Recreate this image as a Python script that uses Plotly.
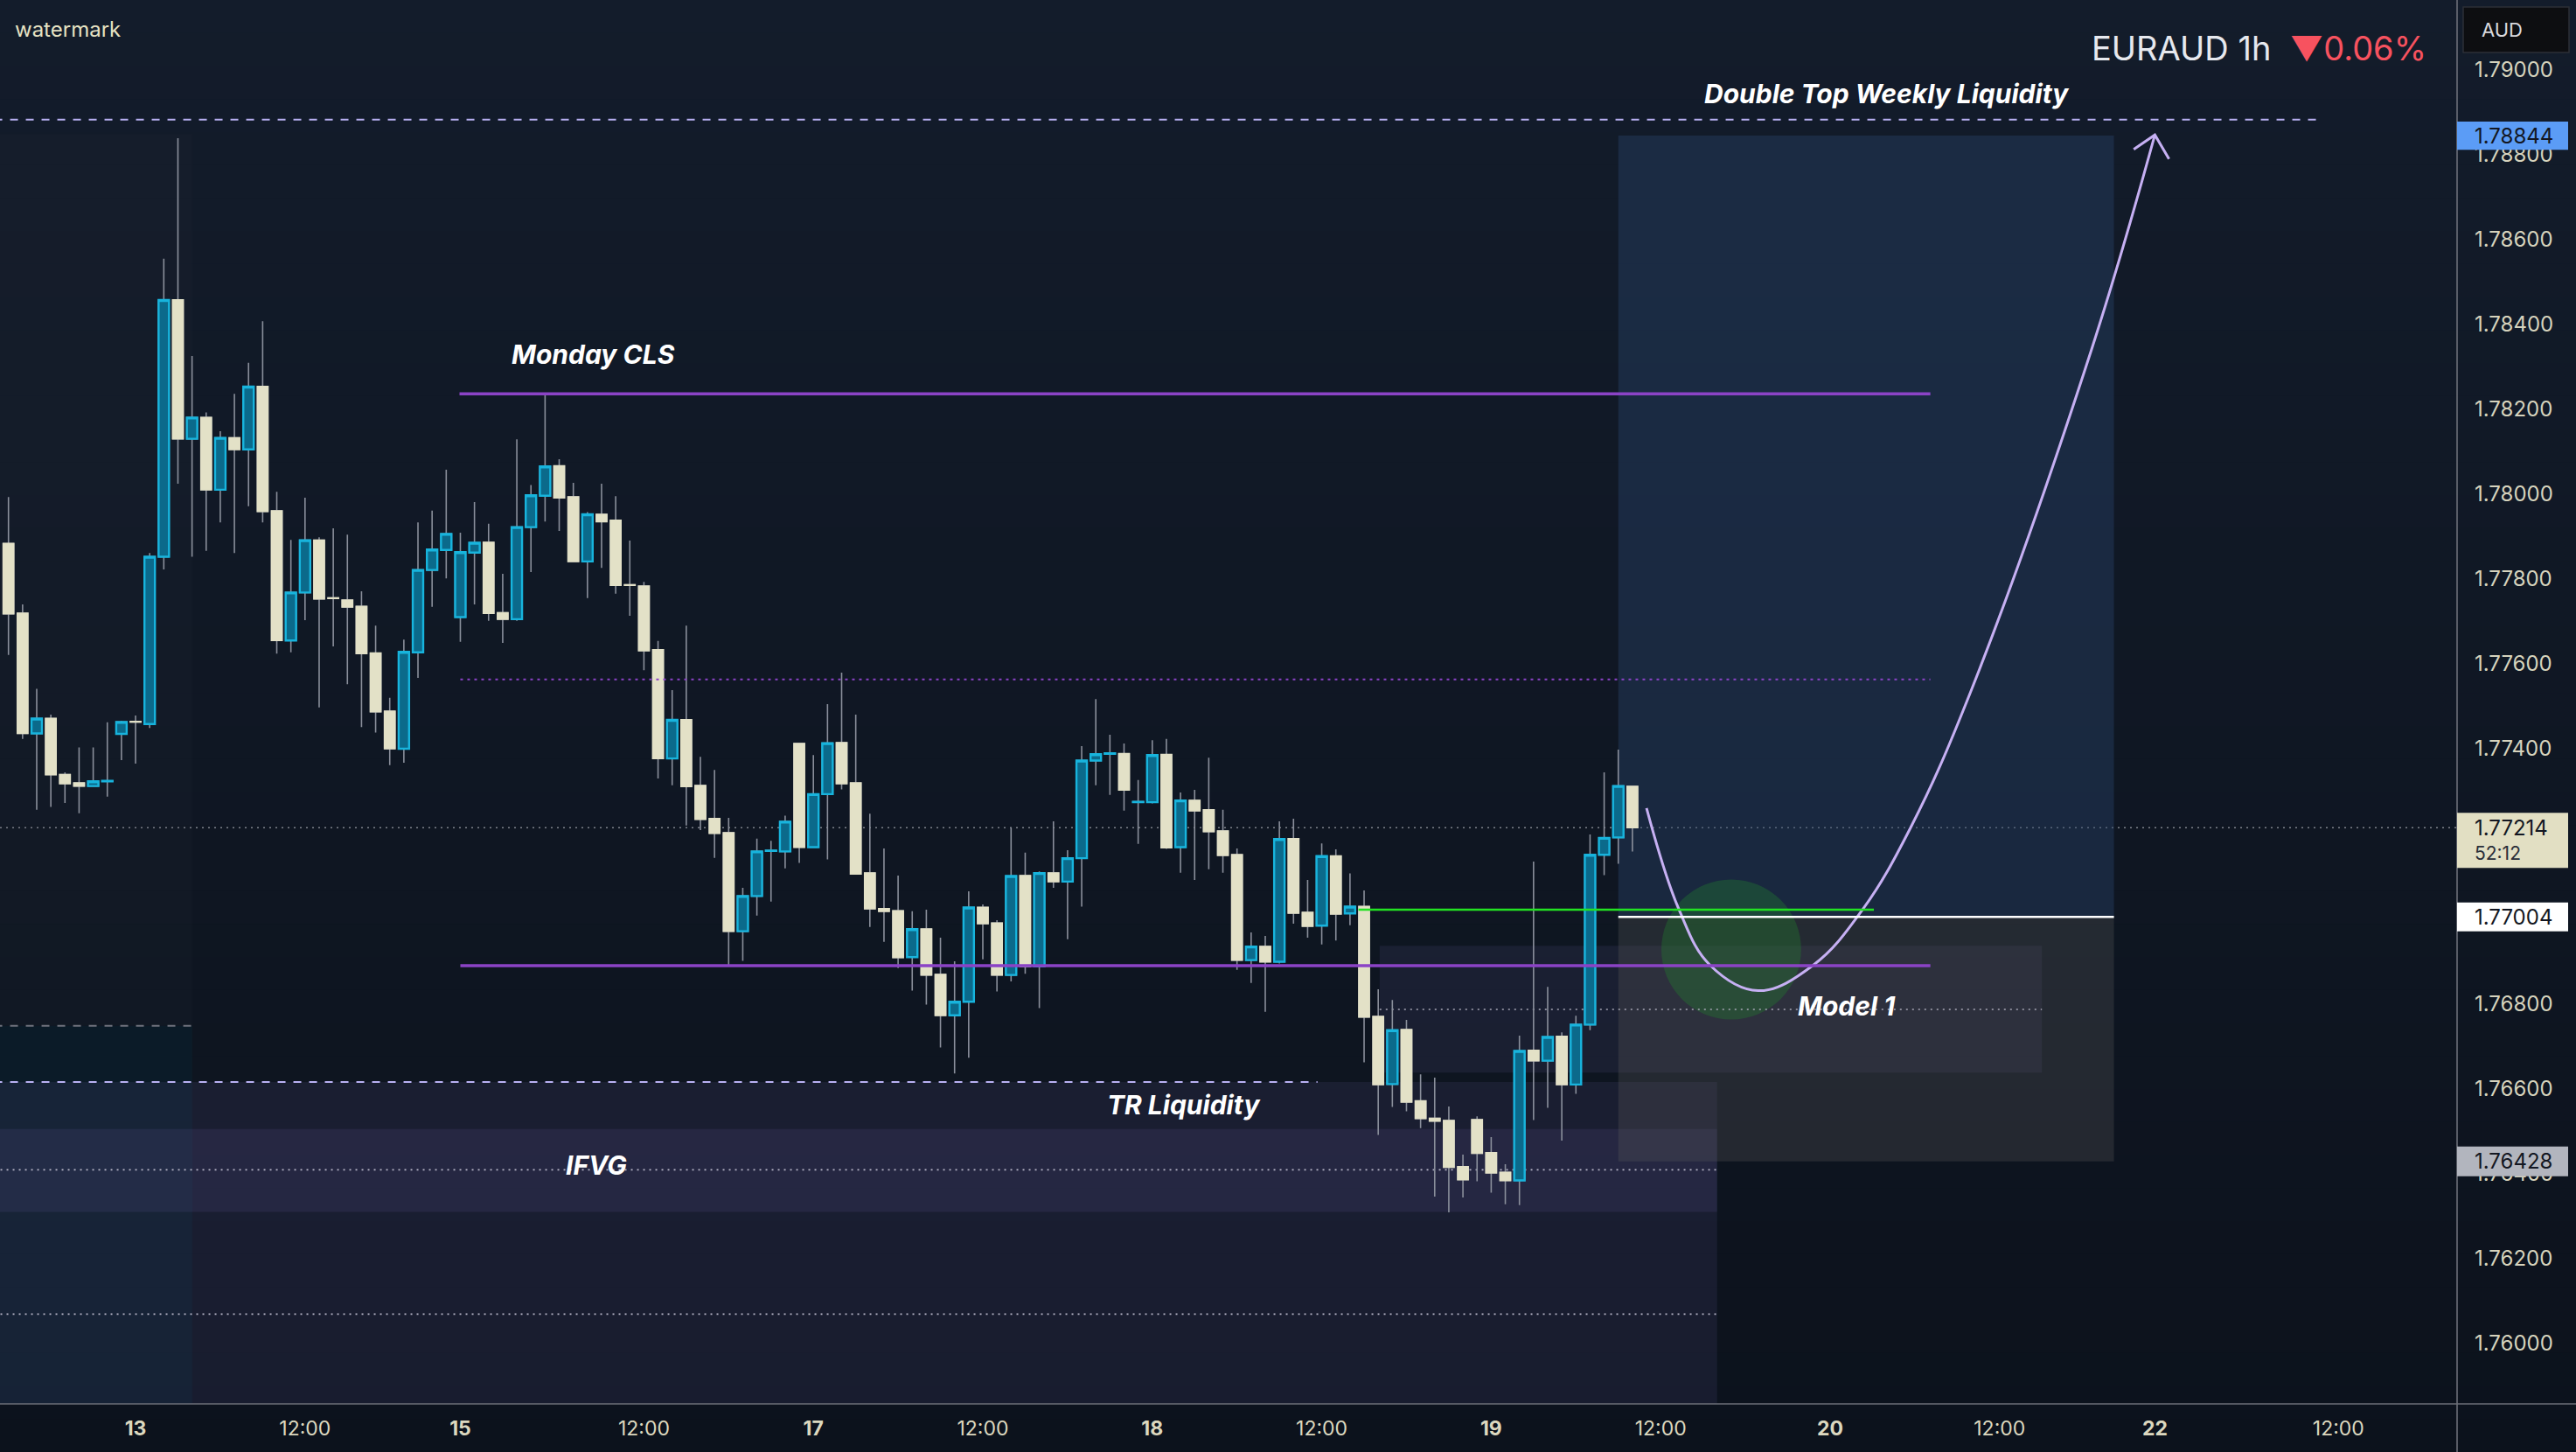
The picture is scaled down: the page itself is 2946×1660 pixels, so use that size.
import plotly.graph_objects as go

# ---------------- data (EURAUD 1h) ----------------
bar_index = list(range(116))
opens = [1.77883, 1.77719, 1.77436, 1.77471, 1.77339, 1.77319, 1.77312, 1.77323, 1.77435, 1.77464,
         1.77458, 1.77852, 1.78457, 1.78130, 1.78180, 1.78010, 1.78132, 1.78105, 1.78253, 1.77960,
         1.77655, 1.77768, 1.77891, 1.77755, 1.77750, 1.77735, 1.77625, 1.77488, 1.77400, 1.77627,
         1.77821, 1.77868, 1.77710, 1.77862, 1.77886, 1.77720, 1.77705, 1.77922, 1.77996, 1.78066,
         1.77993, 1.77841, 1.77952, 1.77938, 1.77786, 1.77783, 1.77633, 1.77377, 1.77468, 1.77313,
         1.77235, 1.77202, 1.76970, 1.77053, 1.77159, 1.77158, 1.77412, 1.77168, 1.77293, 1.77414,
         1.77319, 1.77107, 1.77023, 1.77018, 1.76909, 1.76975, 1.76868, 1.76772, 1.76804, 1.77026,
         1.76989, 1.76867, 1.77101, 1.76887, 1.77107, 1.77087, 1.77142, 1.77372, 1.77388, 1.77388,
         1.77274, 1.77274, 1.77386, 1.77168, 1.77278, 1.77256, 1.77206, 1.77150, 1.76902, 1.76934,
         1.76898, 1.77188, 1.77014, 1.76983, 1.77147, 1.77012, 1.77028, 1.76769, 1.76610, 1.76738,
         1.76570, 1.76529, 1.76524, 1.76415, 1.76526, 1.76448, 1.76402, 1.76383, 1.76689, 1.76665,
         1.76722, 1.76609, 1.76750, 1.77150, 1.77191, 1.77311]
highs = [1.77993, 1.77740, 1.77541, 1.77480, 1.77344, 1.77403, 1.77403, 1.77462, 1.77466, 1.77478,
         1.77861, 1.78554, 1.78838, 1.78325, 1.78192, 1.78148, 1.78236, 1.78309, 1.78407, 1.78005,
         1.77892, 1.77991, 1.77898, 1.77919, 1.77904, 1.77771, 1.77690, 1.77520, 1.77657, 1.77933,
         1.77961, 1.78057, 1.77909, 1.77981, 1.77930, 1.77812, 1.78129, 1.78021, 1.78236, 1.78082,
         1.78026, 1.77957, 1.78024, 1.77995, 1.77890, 1.77793, 1.77654, 1.77538, 1.77690, 1.77381,
         1.77350, 1.77237, 1.77072, 1.77188, 1.77183, 1.77242, 1.77414, 1.77385, 1.77505, 1.77579,
         1.77480, 1.77247, 1.77165, 1.77101, 1.77017, 1.77021, 1.76955, 1.76899, 1.77064, 1.77033,
         1.76996, 1.77214, 1.77155, 1.77111, 1.77229, 1.77161, 1.77406, 1.77517, 1.77433, 1.77412,
         1.77326, 1.77420, 1.77423, 1.77297, 1.77303, 1.77379, 1.77256, 1.77165, 1.76967, 1.76959,
         1.77229, 1.77235, 1.77091, 1.77177, 1.77163, 1.77106, 1.77066, 1.76833, 1.76808, 1.76761,
         1.76633, 1.76625, 1.76557, 1.76444, 1.76534, 1.76485, 1.76421, 1.76724, 1.77134, 1.76839,
         1.76732, 1.76771, 1.77198, 1.77344, 1.77398, 1.77312]
lows = [1.77621, 1.77423, 1.77256, 1.77263, 1.77272, 1.77248, 1.77312, 1.77287, 1.77373, 1.77365,
        1.77449, 1.77822, 1.78024, 1.77852, 1.77866, 1.77933, 1.77861, 1.77971, 1.77933, 1.77624,
        1.77627, 1.77703, 1.77497, 1.77641, 1.77552, 1.77451, 1.77438, 1.77361, 1.77367, 1.77567,
        1.77734, 1.77801, 1.77652, 1.77740, 1.77701, 1.77649, 1.77701, 1.77816, 1.77935, 1.77913,
        1.77839, 1.77755, 1.77826, 1.77765, 1.77713, 1.77585, 1.77330, 1.77314, 1.77219, 1.77208,
        1.77143, 1.76890, 1.76900, 1.77007, 1.77040, 1.77118, 1.77131, 1.77167, 1.77139, 1.77304,
        1.77103, 1.76980, 1.76945, 1.76883, 1.76830, 1.76797, 1.76696, 1.76635, 1.76672, 1.76904,
        1.76828, 1.76852, 1.76870, 1.76789, 1.77072, 1.76951, 1.77028, 1.77314, 1.77291, 1.77254,
        1.77176, 1.77271, 1.77164, 1.77108, 1.77091, 1.77116, 1.77108, 1.76879, 1.76848, 1.76780,
        1.76894, 1.76988, 1.76955, 1.76939, 1.76948, 1.76984, 1.76661, 1.76490, 1.76556, 1.76546,
        1.76506, 1.76345, 1.76308, 1.76343, 1.76381, 1.76354, 1.76327, 1.76325, 1.76525, 1.76554,
        1.76477, 1.76587, 1.76737, 1.77102, 1.77129, 1.77158]
closes = [1.77718, 1.77436, 1.77471, 1.77339, 1.77318, 1.77312, 1.77323, 1.77324, 1.77463, 1.77463,
          1.77852, 1.78457, 1.78130, 1.78180, 1.78010, 1.78132, 1.78105, 1.78253, 1.77959, 1.77655,
          1.77768, 1.77891, 1.77753, 1.77754, 1.77734, 1.77624, 1.77487, 1.77400, 1.77628, 1.77821,
          1.77869, 1.77906, 1.77863, 1.77885, 1.77719, 1.77705, 1.77922, 1.77997, 1.78065, 1.77991,
          1.77841, 1.77952, 1.77935, 1.77785, 1.77785, 1.77631, 1.77377, 1.77468, 1.77311, 1.77234,
          1.77201, 1.76970, 1.77053, 1.77158, 1.77160, 1.77228, 1.77168, 1.77293, 1.77413, 1.77318,
          1.77105, 1.77023, 1.77017, 1.76908, 1.76975, 1.76867, 1.76772, 1.76804, 1.77026, 1.76988,
          1.76867, 1.77100, 1.76887, 1.77107, 1.77087, 1.77142, 1.77372, 1.77387, 1.77389, 1.77303,
          1.77275, 1.77385, 1.77167, 1.77278, 1.77254, 1.77205, 1.77149, 1.76902, 1.76934, 1.76898,
          1.77187, 1.77013, 1.76982, 1.77147, 1.77011, 1.77028, 1.76768, 1.76609, 1.76737, 1.76568,
          1.76529, 1.76523, 1.76414, 1.76385, 1.76447, 1.76401, 1.76383, 1.76688, 1.76665, 1.76721,
          1.76609, 1.76750, 1.77150, 1.77190, 1.77312, 1.77214]

x_tick_vals = [9, 21, 32, 45, 57, 69, 81, 93, 105, 117, 129, 141, 152, 165]
x_tick_text = ["<b>13</b>", "12:00", "<b>15</b>", "12:00", "<b>17</b>", "12:00", "<b>18</b>",
               "12:00", "<b>19</b>", "12:00", "<b>20</b>", "12:00", "<b>22</b>", "12:00"]
# 1.77200 / 1.77000 are hidden under the price tags in the reference
y_tick_vals = [1.760, 1.762, 1.764, 1.766, 1.768, 1.774, 1.776, 1.778,
               1.780, 1.782, 1.784, 1.786, 1.788, 1.790]
y_tick_text = ["1.76000", "1.76200", "1.76400", "1.76600", "1.76800",
               "1.77400", "1.77600", "1.77800", "1.78000", "1.78200", "1.78400", "1.78600",
               "1.78800", "1.79000"]

# key levels
double_top_level = 1.78882
monday_cls_level = 1.78236
mid_dotted_level = 1.77563
range_low_level = 1.76889
current_price = 1.77214
green_level = 1.77021
entry_level = 1.77004
target_level = 1.78844
stop_level = 1.76428
tr_liquidity_level = 1.76615
ifvg_band = [1.76309, 1.76504]
ifvg_mid_level = 1.76408
ifvg_low_level = 1.76068
model_zone = [1.76637, 1.76936]
model_mid_level = 1.76786
session_box = [1.76747, 1.78848]

# projected path drawing (bar, price)
path_x = [116.0, 118.3, 120.5, 123.9, 127.8, 131.3, 134.7, 139.0, 147.5, 152.0]
path_y = [1.77260, 1.77021, 1.76890, 1.76830, 1.76890, 1.77021, 1.77214, 1.77538, 1.78339, 1.78846]
arrow_x = [150.5, 152.0, 153.0]
arrow_y = [1.78812, 1.78846, 1.78789]
circle_center = [122.0, 1.76927]

label_text = ["Double Top Weekly Liquidity", "Monday CLS", "TR Liquidity", "IFVG", "Model 1"]
label_x = [133.0, 41.4, 83.2, 41.6, 130.2]
label_y = [1.78943, 1.78329, 1.76562, 1.76419, 1.76794]

# ---------------- layout geometry ----------------
W, H = 2946, 1660
MR, MB = 136, 55
PW, PH = W - MR, H - MB
X_RANGE = [-0.6, 173.4]
Y_RANGE = [1.758566, 1.791636]


def px_x(px):
    return px / PW


def px_y(py):
    return 1 - py / PH


FONT = "Inter, Roboto, sans-serif"
wick_color = "#8a8f9b"
up_line, up_fill = "#17b4dd", "#0b6a8b"
down_col = "#e3e1c7"

fig = go.Figure()
fig.add_trace(go.Candlestick(
    x=bar_index, open=opens, high=highs, low=lows, close=closes,
    increasing=dict(line=dict(color=wick_color, width=1.6), fillcolor="rgba(0,0,0,0)"),
    decreasing=dict(line=dict(color=wick_color, width=1.6), fillcolor="rgba(0,0,0,0)"),
    whiskerwidth=0, hoverinfo="skip", showlegend=False))
body_hi = [max(o, c) for o, c in zip(opens, closes)]
body_lo = [min(o, c) for o, c in zip(opens, closes)]
fig.add_trace(go.Candlestick(
    x=bar_index, open=opens, high=body_hi, low=body_lo, close=closes,
    increasing=dict(line=dict(color=up_line, width=2.4), fillcolor=up_fill),
    decreasing=dict(line=dict(color=down_col, width=1.8), fillcolor=down_col),
    whiskerwidth=0, hoverinfo="skip", showlegend=False))

# projected path + arrow head
fig.add_trace(go.Scatter(x=path_x, y=path_y, mode="lines",
                         line=dict(color="#c6b0f3", width=3, shape="spline", smoothing=1.1),
                         hoverinfo="skip", showlegend=False))
fig.add_trace(go.Scatter(x=arrow_x, y=arrow_y, mode="lines",
                         line=dict(color="#c6b0f3", width=3),
                         hoverinfo="skip", showlegend=False))

shapes = []
# background gradient
top_c, bot_c = (19, 28, 43), (12, 18, 28)
N = 44
for k in range(N):
    f = (k + 0.5) / N
    col = tuple(round(a + (b - a) * f) for a, b in zip(top_c, bot_c))
    shapes.append(dict(type="rect", xref="paper", yref="paper",
                       x0=0, x1=px_x(W), y0=px_y(H * (k + 1) / N + 1), y1=px_y(H * k / N),
                       fillcolor="rgb(%d,%d,%d)" % col, line=dict(width=0), layer="below"))


def rect(x0, x1, y0, y1, fill, layer="below", line=None):
    d = dict(type="rect", xref="x", yref="y", x0=x0, x1=x1, y0=y0, y1=y1,
             fillcolor=fill, line=line or dict(width=0), layer=layer)
    shapes.append(d)


def hline(x0, x1, y, color, width, dash="solid", layer="above", xref="x"):
    shapes.append(dict(type="line", xref=xref, yref="y", x0=x0, x1=x1, y0=y, y1=y,
                       line=dict(color=color, width=width, dash=dash), layer=layer))


# boxes
rect(-1, 13.02, session_box[0], session_box[1], "rgba(70,70,80,0.08)")
rect(-1, 13.02, 1.7570, session_box[0], "rgba(0,70,90,0.15)")
rect(-1, 121.0, 1.7570, tr_liquidity_level, "rgba(110,100,170,0.13)")
rect(-1, 121.0, ifvg_band[0], ifvg_band[1], "rgba(110,100,170,0.14)")
rect(97.1, 144.0, model_zone[0], model_zone[1], "rgba(110,100,170,0.13)")
rect(114.0, 149.1, entry_level, target_level, "rgba(41,67,104,0.42)")
rect(114.0, 149.1, stop_level, entry_level, "rgba(90,90,90,0.30)")
shapes.append(dict(type="circle", xref="x", yref="y",
                   x0=circle_center[0] - 4.95, x1=circle_center[0] + 4.95,
                   y0=circle_center[1] - 0.00165, y1=circle_center[1] + 0.00165,
                   fillcolor="rgba(35,130,45,0.35)", line=dict(width=0), layer="below"))

# dotted guide lines (behind candles)
hline(0, 1, current_price, "#7c808a", 1.6, "2px,5px", layer="below", xref="paper")
hline(-1, 121.0, ifvg_mid_level, "#b9b7c9", 1.6, "2px,5px", layer="below")
hline(-1, 121.0, ifvg_low_level, "#b9b7c9", 1.6, "2px,5px", layer="below")
hline(97.1, 144.0, model_mid_level, "#a9a8b8", 1.6, "2px,5px", layer="below")

# drawing lines
hline(-1, 163.5, double_top_level, "#b9b1f3", 2, "dash")
hline(-1, 92.7, tr_liquidity_level, "#b9b1f3", 2, "dash")
hline(-1, 13.02, session_box[0], "#6f727c", 2, "dash")
hline(31.94, 136.1, monday_cls_level, "#8b43c6", 3.5)
hline(32.0, 136.1, mid_dotted_level, "#8b43c6", 2, "3px,5px")
hline(32.0, 136.1, range_low_level, "#8b43c6", 3.5)
hline(95.6, 132.1, green_level, "#22e322", 2.5)
hline(114.0, 149.1, entry_level, "#ffffff", 2.5)

# axis separators
shapes.append(dict(type="line", xref="paper", yref="paper", x0=1, x1=1, y0=px_y(H), y1=1,
                   line=dict(color="#6c6f79", width=1.6), layer="above"))
shapes.append(dict(type="line", xref="paper", yref="paper", x0=0, x1=px_x(W), y0=0, y1=0,
                   line=dict(color="#6c6f79", width=1.6), layer="above"))

annotations = []
# price tags on the right scale
tag_x0, tag_x1 = 1.0, px_x(2937)
tags = [
    (target_level, "1.78844", "#5b9cf6", 0.00033, 0.00033),
    (current_price, "1.77214", "#e2dfc3", 0.00095, 0.00035),
    (entry_level, "1.77004", "#ffffff", 0.00034, 0.00034),
    (stop_level, "1.76428", "#b2b5be", 0.00035, 0.00035),
]
for price, txt, col, below, above in tags:
    shapes.append(dict(type="rect", xref="paper", yref="y", x0=tag_x0, x1=tag_x1,
                       y0=price - below, y1=price + above, fillcolor=col,
                       line=dict(width=0), layer="above"))
    annotations.append(dict(xref="paper", yref="y", x=px_x(2828), y=price, text=txt,
                            xanchor="left", yanchor="middle", showarrow=False,
                            font=dict(family=FONT, size=24, color="#131722")))
annotations.append(dict(xref="paper", yref="y", x=px_x(2828), y=current_price - 0.00060,
                        text="52:12", xanchor="left", yanchor="middle", showarrow=False,
                        font=dict(family=FONT, size=21, color="#2a2e39")))

# AUD box
shapes.append(dict(type="rect", xref="paper", yref="paper", x0=px_x(2817), x1=px_x(2938),
                   y0=px_y(60), y1=px_y(8), fillcolor="#0d0e11",
                   line=dict(color="#2c2f37", width=1.5), layer="above"))
annotations.append(dict(xref="paper", yref="paper", x=px_x(2836), y=px_y(34), text="AUD",
                        xanchor="left", yanchor="middle", showarrow=False,
                        font=dict(family=FONT, size=22, color="#d8d9de")))

# title & watermark
annotations.append(dict(xref="paper", yref="paper", x=px_x(2777), y=px_y(55),
                        text="EURAUD 1h  <span style='color:#f7525f'>▼0.06%</span>",
                        xanchor="right", yanchor="middle", showarrow=False,
                        font=dict(family=FONT, size=38, color="#e6e8ee")))
annotations.append(dict(xref="paper", yref="paper", x=px_x(15), y=px_y(33), text="watermark",
                        xanchor="left", yanchor="middle", showarrow=False,
                        font=dict(family=FONT, size=24, color="#e6e2c3")))

# drawing labels
for t, lx, ly in zip(label_text, label_x, label_y):
    annotations.append(dict(xref="x", yref="y", x=lx, y=ly, text="<b><i>%s</i></b>" % t,
                            xanchor="center", yanchor="middle", showarrow=False,
                            font=dict(family=FONT, size=30, color="#ffffff")))

fig.update_layout(
    width=W, height=H,
    margin=dict(l=0, r=MR, t=0, b=MB, pad=0),
    paper_bgcolor="#0d131e", plot_bgcolor="rgba(0,0,0,0)",
    showlegend=False, hovermode=False,
    boxgap=0.26, boxgroupgap=0,
    shapes=shapes, annotations=annotations,
    xaxis=dict(range=X_RANGE, tickvals=x_tick_vals, ticktext=x_tick_text,
               showgrid=False, zeroline=False, showline=False, ticks="",
               tickfont=dict(family=FONT, size=23, color="#dcd8bf"),
               ticklabelstandoff=12, rangeslider=dict(visible=False), fixedrange=True),
    yaxis=dict(range=Y_RANGE, side="right", tickvals=y_tick_vals, ticktext=y_tick_text,
               showgrid=False, zeroline=False, showline=False, ticks="",
               tickfont=dict(family=FONT, size=24, color="#d6d3bd"),
               ticklabelstandoff=19, fixedrange=True),
)

fig.write_html("out.html")
